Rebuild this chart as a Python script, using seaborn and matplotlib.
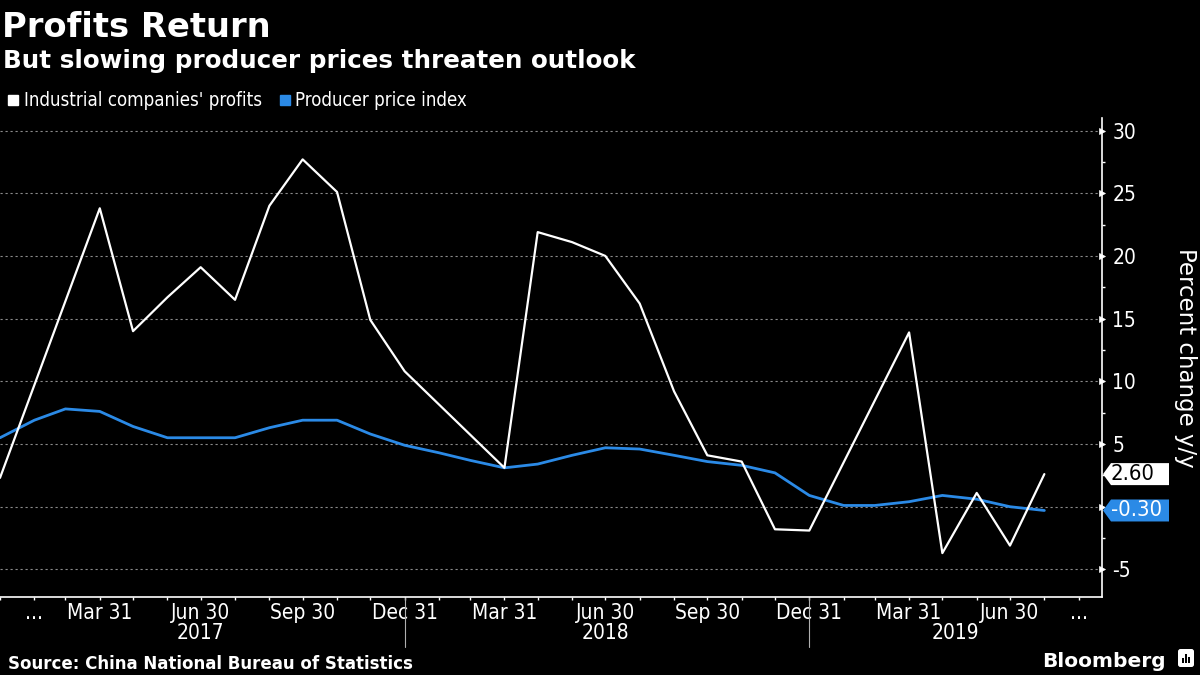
import matplotlib
matplotlib.use("Agg")
import matplotlib.pyplot as plt
import matplotlib.dates as mdates
import matplotlib.transforms as mtransforms
from matplotlib.lines import Line2D
from matplotlib.patches import Polygon, FancyBboxPatch, Rectangle
from matplotlib.ticker import FixedLocator
from matplotlib import font_manager
from matplotlib.font_manager import FontProperties
import pandas as pd
import seaborn as sns

# ---------------- data ----------------
series_names = ["Industrial companies' profits", "Producer price index"]

profit_dates = ["2016-12-31",
                "2017-03-31", "2017-04-30", "2017-05-31", "2017-06-30", "2017-07-31",
                "2017-08-31", "2017-09-30", "2017-10-31", "2017-11-30", "2017-12-31",
                "2018-03-31", "2018-04-30", "2018-05-31", "2018-06-30", "2018-07-31",
                "2018-08-31", "2018-09-30", "2018-10-31", "2018-11-30", "2018-12-31",
                "2019-03-31", "2019-04-30", "2019-05-31", "2019-06-30", "2019-07-31"]
profit_values = [2.3,
                 23.8, 14.0, 16.7, 19.1, 16.5, 24.0, 27.7, 25.1, 14.9, 10.8,
                 3.1, 21.9, 21.1, 20.0, 16.2, 9.2, 4.1, 3.6, -1.8, -1.9,
                 13.9, -3.7, 1.1, -3.1, 2.6]

ppi_dates = ["2016-12-31",
             "2017-01-31", "2017-02-28", "2017-03-31", "2017-04-30", "2017-05-31", "2017-06-30",
             "2017-07-31", "2017-08-31", "2017-09-30", "2017-10-31", "2017-11-30", "2017-12-31",
             "2018-01-31", "2018-02-28", "2018-03-31", "2018-04-30", "2018-05-31", "2018-06-30",
             "2018-07-31", "2018-08-31", "2018-09-30", "2018-10-31", "2018-11-30", "2018-12-31",
             "2019-01-31", "2019-02-28", "2019-03-31", "2019-04-30", "2019-05-31", "2019-06-30",
             "2019-07-31"]
ppi_values = [5.5,
              6.9, 7.8, 7.6, 6.4, 5.5, 5.5, 5.5, 6.3, 6.9, 6.9, 5.8, 4.9,
              4.3, 3.7, 3.1, 3.4, 4.1, 4.7, 4.6, 4.1, 3.6, 3.3, 2.7, 0.9,
              0.1, 0.1, 0.4, 0.9, 0.6, 0.0, -0.3]

x_tick_dates = ["2017-01-31", "2017-03-31", "2017-06-30", "2017-09-30", "2017-12-31",
                "2018-03-31", "2018-06-30", "2018-09-30", "2018-12-31",
                "2019-03-31", "2019-06-30", "2019-08-31"]
x_tick_labels = ["...", "Mar 31", "Jun 30", "Sep 30", "Dec 31",
                 "Mar 31", "Jun 30", "Sep 30", "Dec 31",
                 "Mar 31", "Jun 30", "..."]
year_labels = ["2017", "2018", "2019"]
year_label_dates = ["2017-06-30", "2018-06-30", None]
year_break_dates = ["2017-12-31", "2018-12-31"]
y_ticks = [-5, 0, 5, 10, 15, 20, 25, 30]
y_tick_labels = ["-5", "", "5", "10", "15", "20", "25", "30"]
x_start, x_end = "2016-12-31", "2019-09-21"
y_min, y_max = -7.2, 31.0

title = "Profits Return"
subtitle = "But slowing producer prices threaten outlook"
source = "Source: China National Bureau of Statistics"
y_label = "Percent change y/y"

WHITE = "#ffffff"
BLUE = "#2b8ae6"
BG = "#000000"
GRID = "#8a8a8a"

# ---------------- style ----------------
sns.set_theme(style="dark", rc={"axes.facecolor": BG, "figure.facecolor": BG,
                                 "axes.grid": False, "text.color": WHITE,
                                 "axes.labelcolor": WHITE, "xtick.color": WHITE,
                                 "ytick.color": WHITE})
plt.rcParams["font.family"] = ["DejaVu Sans"]
plt.rcParams["axes.unicode_minus"] = False

has_cond = any(f.name == "DejaVu Sans" and f.stretch == "condensed" and f.weight in (400, "normal")
               for f in font_manager.fontManager.ttflist)
STRETCH = "condensed" if has_cond else "normal"
K = 1.0 if has_cond else 0.9
TICK_FS = 15.0 * K
TAG_FS = 15.8 * K
LEG_FS = 13.4 * K

W, H = 1200, 675
fig = plt.figure(figsize=(W / 100, H / 100), dpi=100)
fig.patch.set_facecolor(BG)
ax_left, ax_right, ax_top, ax_bottom = 0, 1102, 118, 597
ax = fig.add_axes([ax_left / W, 1 - ax_bottom / H, (ax_right - ax_left) / W,
                   (ax_bottom - ax_top) / H])
ax.set_facecolor(BG)

df_profit = pd.DataFrame({"date": pd.to_datetime(profit_dates), "value": profit_values,
                          "series": series_names[0]})
df_ppi = pd.DataFrame({"date": pd.to_datetime(ppi_dates), "value": ppi_values,
                       "series": series_names[1]})

sns.lineplot(data=df_ppi, x="date", y="value", color=BLUE, linewidth=2.0, ax=ax,
             legend=False, zorder=3)
sns.lineplot(data=df_profit, x="date", y="value", color=WHITE, linewidth=1.6, ax=ax,
             legend=False, zorder=4)

ax.set_xlim(mdates.date2num(pd.Timestamp(x_start)), mdates.date2num(pd.Timestamp(x_end)))
ax.set_ylim(y_min, y_max)
ax.set_xlabel("")
ax.set_ylabel("")

for s in ["top", "left"]:
    ax.spines[s].set_visible(False)
for s in ["right", "bottom"]:
    ax.spines[s].set_visible(True)
    ax.spines[s].set_color(WHITE)
    ax.spines[s].set_linewidth(1.2)

# y axis on the right
ax.yaxis.tick_right()
ax.set_yticks(y_ticks)
ax.set_yticklabels(y_tick_labels)
ax.yaxis.set_minor_locator(FixedLocator([t + 2.5 for t in y_ticks[:-1]]))
ax.tick_params(axis="y", which="major", length=4, width=0.5, pad=3.5,
               labelsize=TICK_FS, colors=WHITE, right=True, left=False)
ax.tick_params(axis="y", which="minor", length=2.5, width=1, colors=WHITE,
               right=True, left=False, direction="out")
ax.yaxis.grid(True, which="major", color=GRID, linestyle=(0, (2, 2.5)), linewidth=0.8)
ax.xaxis.grid(False)

# x axis
month_ends = pd.date_range(x_start, x_end, freq="ME")
ax.set_xticks(mdates.date2num(pd.to_datetime(x_tick_dates)))
ax.set_xticklabels(x_tick_labels)
ax.xaxis.set_minor_locator(FixedLocator(mdates.date2num(month_ends)))
ax.tick_params(axis="x", which="both", length=2.5, width=1, colors=WHITE,
               direction="out", pad=1.5, labelsize=TICK_FS, bottom=True, top=False)

blend = mtransforms.blended_transform_factory(ax.transData, ax.transAxes)
for d in year_break_dates:
    xd = mdates.date2num(pd.Timestamp(d))
    ax.plot([xd, xd], [0, -(647 - ax_bottom) / (ax_bottom - ax_top)], transform=blend,
            color="#b0b0b0", linewidth=0.8, clip_on=False)

xl = ax.get_xlim()
for lab, d in zip(year_labels, year_label_dates):
    if d is None:
        xd = (mdates.date2num(pd.Timestamp(year_break_dates[-1])) + xl[1]) / 2
    else:
        xd = mdates.date2num(pd.Timestamp(d))
    ax.text(xd, -(633 - ax_bottom) / (ax_bottom - ax_top), lab, transform=blend,
            ha="center", va="center", color=WHITE, fontsize=TICK_FS, fontstretch=STRETCH)

# triangular major tick markers and condensed labels
for t in ax.yaxis.get_major_ticks():
    t.tick2line.set_marker(">")
    t.tick2line.set_markersize(5)
    t.tick2line.set_markerfacecolor(WHITE)
for lab in ax.get_xticklabels() + ax.get_yticklabels():
    lab.set_fontstretch(STRETCH)

# value tags at the right
def value_tag(val, face, txt):
    y = ax.transData.transform((0, val))[1]
    x0 = ax.transAxes.transform((1, 0))[0] + 1
    h, tip, w = 11, 8, 66
    pts = [(x0, y), (x0 + tip, y + h), (x0 + w, y + h), (x0 + w, y - h), (x0 + tip, y - h)]
    fig.add_artist(Polygon(pts, closed=True, transform=mtransforms.IdentityTransform(),
                           facecolor=face, edgecolor="none", zorder=5))
    fig.text((x0 + tip) / W, y / H, f"{val:.2f}", ha="left", va="center",
             color=txt, fontsize=TAG_FS, fontstretch=STRETCH, zorder=6)

value_tag(profit_values[-1], WHITE, "#000000")
value_tag(ppi_values[-1], BLUE, WHITE)

# axis title
fig.text(1186 / W, 1 - 358 / H, y_label, rotation=270, ha="center", va="center",
         color=WHITE, fontsize=16.5)

# titles
fig.text(2 / W, 1 - 37 / H, title, ha="left", va="baseline", color=WHITE,
         fontsize=24.3, fontweight="bold")
fig.text(3 / W, 1 - 68 / H, subtitle, ha="left", va="baseline", color=WHITE,
         fontsize=17.7, fontweight="bold")

# legend
handles = [Line2D([], [], marker="s", linestyle="none", markersize=7.5,
                  markerfacecolor=WHITE, markeredgecolor=WHITE),
           Line2D([], [], marker="s", linestyle="none", markersize=7.5,
                  markerfacecolor=BLUE, markeredgecolor=BLUE)]
fig.legend(handles, series_names, loc="center left", bbox_to_anchor=(6 / W, 1 - 101 / H),
           ncol=2, frameon=False, handlelength=0.8, handletextpad=0.15, columnspacing=0.85,
           borderaxespad=0, borderpad=0, labelcolor=WHITE,
           prop=FontProperties(family="DejaVu Sans", stretch=STRETCH, size=LEG_FS))

# footer
fig.text(8 / W, 1 - 669 / H, source, ha="left", va="baseline", color=WHITE,
         fontsize=12, fontweight="bold")
fig.text(1166 / W, 1 - 667 / H, "Bloomberg", ha="right", va="baseline", color=WHITE,
         fontsize=14.5, fontweight="bold")
fig.add_artist(FancyBboxPatch((1178, 8), 16, 18, boxstyle="round,pad=0,rounding_size=2.5",
                              transform=mtransforms.IdentityTransform(),
                              facecolor=WHITE, edgecolor="none"))
for bx, bh in [(1182, 5), (1185.2, 9), (1188.4, 6)]:
    fig.add_artist(Rectangle((bx, 12), 1.8, bh, transform=mtransforms.IdentityTransform(),
                             facecolor=BG, edgecolor="none"))

fig.savefig("out.png", dpi=100, facecolor=BG)
